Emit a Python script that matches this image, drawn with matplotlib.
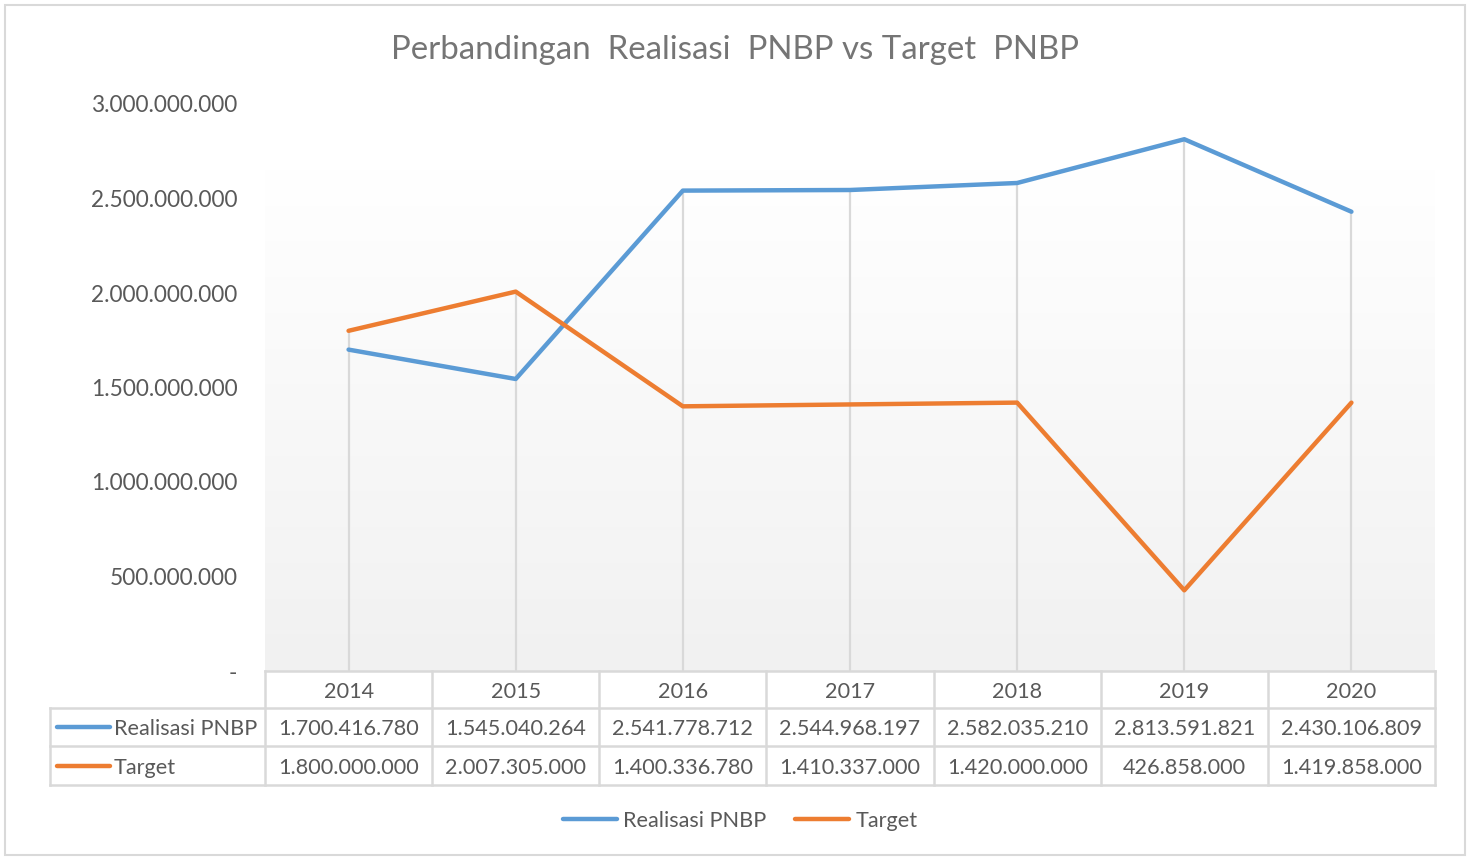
import matplotlib
matplotlib.use("Agg")
import matplotlib.pyplot as plt
import matplotlib.transforms as mtransforms
from matplotlib.colors import LinearSegmentedColormap
from matplotlib.patches import Rectangle
import numpy as np

plt.rcParams["font.family"] = ["Lato", "DejaVu Sans"]

years = ["2014", "2015", "2016", "2017", "2018", "2019", "2020"]
realisasi = [1700416780, 1545040264, 2541778712, 2544968197, 2582035210, 2813591821, 2430106809]
target = [1800000000, 2007305000, 1400336780, 1410337000, 1420000000, 426858000, 1419858000]
series_names = ["Realisasi PNBP", "Target"]

BLUE, ORANGE = "#5B9BD5", "#ED7D31"
TXT, GRID = "#595959", "#d9d9d9"
W, H = 1470, 858
FS_TAB = 15.6


def dots(v):
    return f"{int(v):,}".replace(",", ".")


fig = plt.figure(figsize=(W / 100, H / 100), dpi=100)
ax = fig.add_axes([265 / W, 1 - 671 / H, 1170 / W, 567 / H])

# plot-area gradient (white -> light grey)
cmap = LinearSegmentedColormap.from_list("bg", ["#ffffff", "#f1f1f1"])
ax.imshow(np.linspace(0, 1, 256)[:, None], cmap=cmap, aspect="auto",
          extent=[0, 1, 0, 0.885], transform=ax.transAxes, zorder=0)

x = np.arange(len(years))
ax.vlines(x, 0, np.maximum(realisasi, target), color=GRID, lw=1.6, zorder=1)
l1, = ax.plot(x, realisasi, color=BLUE, lw=3.2, solid_capstyle="round",
              solid_joinstyle="round", zorder=3)
l2, = ax.plot(x, target, color=ORANGE, lw=3.2, solid_capstyle="round",
              solid_joinstyle="round", zorder=3)

ax.set_xlim(-0.5, len(years) - 0.5)
ax.set_ylim(0, 3e9)
ax.set_xticks([])
ax.set_yticks(np.arange(0, 3.01e9, 5e8))
ax.yaxis.set_major_formatter(plt.FuncFormatter(lambda v, p: "-" if v == 0 else dots(v)))
ax.tick_params(axis="y", length=0, pad=20, labelsize=16.3, labelcolor=TXT)
for s in ax.spines.values():
    s.set_visible(False)

# data table under the axis
tr = mtransforms.blended_transform_factory(ax.transData, ax.transAxes)
colw = 1170 / len(years)
xl = -0.5 - 215 / colw
rows = [0, -37 / 567, -75 / 567, -114 / 567]
off = -2 / 567  # nudge text slightly below the row centre
kw = dict(color=GRID, lw=1.8, transform=tr, clip_on=False)
ax.plot([-0.5, 6.5], [rows[0]] * 2, **kw)
for r in rows[1:]:
    ax.plot([xl, 6.5], [r] * 2, **kw)
for k in range(len(years) + 1):
    ax.plot([k - 0.5] * 2, [rows[0], rows[3]], **kw)
ax.plot([xl] * 2, [rows[1], rows[3]], **kw)

for i, yr in enumerate(years):
    ax.text(i, (rows[0] + rows[1]) / 2 + off, yr, transform=tr, ha="center", va="center",
            fontsize=FS_TAB, color=TXT)
    ax.text(i, (rows[1] + rows[2]) / 2 + off, dots(realisasi[i]), transform=tr,
            ha="center", va="center", fontsize=FS_TAB, color=TXT)
    ax.text(i, (rows[2] + rows[3]) / 2 + off, dots(target[i]), transform=tr,
            ha="center", va="center", fontsize=FS_TAB, color=TXT)

for j, (name, col) in enumerate(zip(series_names, [BLUE, ORANGE])):
    ym = (rows[j + 1] + rows[j + 2]) / 2
    ax.plot([-0.5 + (57 - 265) / colw, -0.5 + (110 - 265) / colw], [ym, ym],
            color=col, lw=3.2, solid_capstyle="round", transform=tr, clip_on=False)
    ax.text(-0.5 + (114 - 265) / colw, ym + off, name, transform=tr, ha="left",
            va="center", fontsize=FS_TAB, color=TXT)

fig.legend([l1, l2], series_names, loc="center", bbox_to_anchor=(740 / W, 1 - 821 / H),
           ncol=2, frameon=False, fontsize=15.6, handlelength=2.5, handletextpad=0.3,
           columnspacing=1.3, labelcolor=TXT)

fig.text(735 / W, 1 - 50 / H, "Perbandingan  Realisasi  PNBP vs Target  PNBP",
         ha="center", va="center", fontsize=23.8, color="#757575")

fig.patches.append(Rectangle((5 / W, 3 / H), 1460 / W, 850 / H, transform=fig.transFigure,
                             fill=False, ec=GRID, lw=1.5))

fig.savefig("out.png", dpi=100)
